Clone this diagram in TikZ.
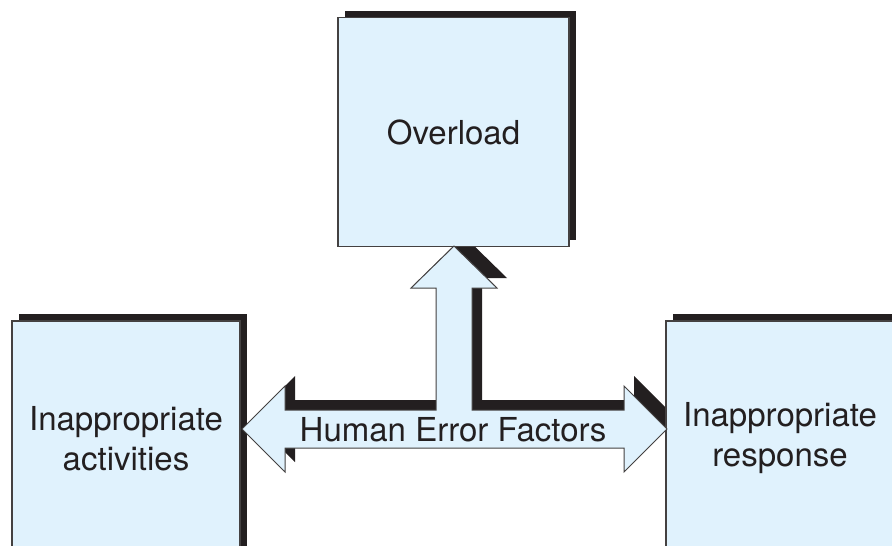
\documentclass[tikz,border=0pt]{standalone}
\usepackage{fontspec}
\setmainfont{TeX Gyre Heros}
\usetikzlibrary{shadows}
\definecolor{boxblue}{HTML}{E0F2FD}
\definecolor{inkblack}{HTML}{231F20}
\tikzset{
  errbox/.style={draw=inkblack!85, line width=1.2pt, fill=boxblue,
    text=inkblack, align=center, inner sep=0pt,
    font=\fontsize{33}{40}\selectfont,
    drop shadow={shadow xshift=7pt, shadow yshift=7pt, fill=inkblack, opacity=1}},
  blockarrow/.style={draw=inkblack!85, line width=1pt, fill=boxblue, line join=miter}
}
% outline of the T shaped block arrow
\def\hefarrow{(242,429) -- (285,386) -- (285,410) -- (436,410) -- (436,288)
  -- (411,288) -- (454,246) -- (497,288) -- (472,288) -- (472,410)
  -- (624,410) -- (624,386) -- (667,429) -- (624,472) -- (624,448)
  -- (285,448) -- (285,472) -- cycle}
\begin{document}
\begin{tikzpicture}[x=1pt,y=-1pt]
      \useasboundingbox (0,0) rectangle (892,546);
      \fill[inkblack, shift={(10,-10)}] \hefarrow;
      \node[errbox, minimum width=231pt, minimum height=229pt] (over) at (453.5,132) {Overload};
      \node[errbox, minimum width=228pt, minimum height=235pt] (act) at (126,438.5) {Inappropriate\\activities};
      \node[errbox, minimum width=228pt, minimum height=235pt] (resp) at (780,438.5) {Inappropriate\\response};
      \draw[blockarrow] \hefarrow;
      \node[text=inkblack, font=\fontsize{33}{40}\selectfont, inner sep=0pt] (hef) at (453,430) {Human Error Factors};
    \end{tikzpicture}
\end{document}
